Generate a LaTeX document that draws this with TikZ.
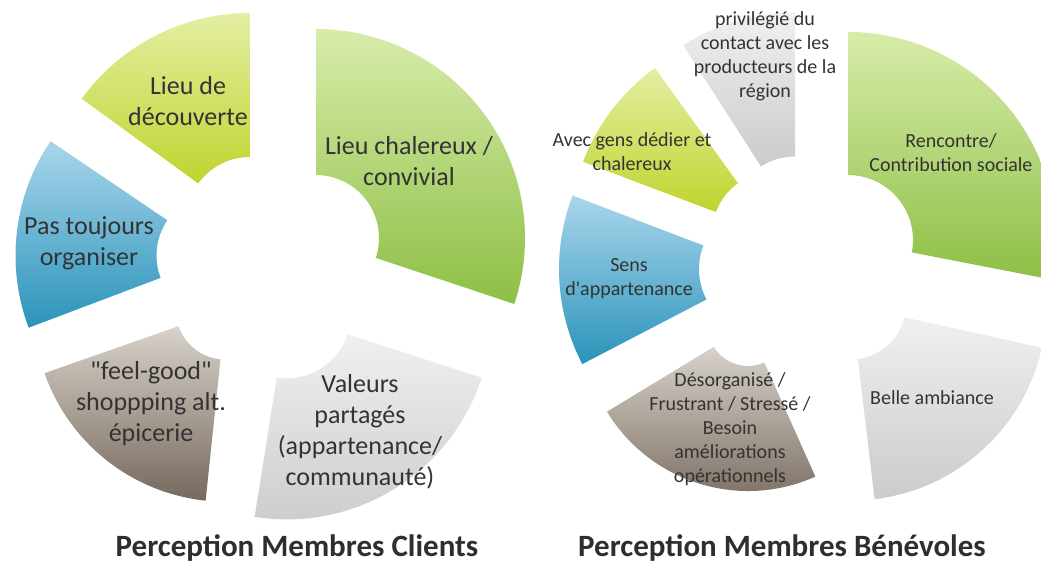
\documentclass[tikz,border=0pt]{standalone}
\usepackage{fontspec}
\setmainfont{Carlito}[Ligatures=TeXOff]
\usetikzlibrary{calc}

\definecolor{ylwTop}{HTML}{E4EEA2}
\definecolor{ylwBot}{HTML}{C0D42E}
\definecolor{grnTop}{HTML}{D8ECAA}
\definecolor{grnBot}{HTML}{8DBF45}
\definecolor{bluTop}{HTML}{A9D6EC}
\definecolor{bluBot}{HTML}{2A93B9}
\definecolor{brnTop}{HTML}{D8D2CA}
\definecolor{brnBot}{HTML}{76695D}
\definecolor{gryTop}{HTML}{F0F0F0}
\definecolor{gryBot}{HTML}{CBCBCB}
\definecolor{txt}{HTML}{333333}

% annular sector: style, apex name, start angle, end angle, inner radius, outer radius
\newcommand\ringseg[6]{%
  \path[#1] ([shift={(#3:#6)}]#2) arc[start angle=#3, end angle=#4, radius=#6]
    -- ([shift={(#4:#5)}]#2) arc[start angle=#4, end angle=#3, radius=#5] -- cycle;}

\tikzset{
  ylw/.style={top color=ylwTop, bottom color=ylwBot},
  grn/.style={top color=grnTop, bottom color=grnBot},
  blu/.style={top color=bluTop, bottom color=bluBot},
  brn/.style={top color=brnTop, bottom color=brnBot},
  gry/.style={top color=gryTop, bottom color=gryBot},
  biglbl/.style={align=center, text=txt, inner sep=0pt, font=\fontsize{26}{31}\selectfont},
  smalllbl/.style={align=center, text=txt, inner sep=0pt, font=\fontsize{20}{24}\selectfont},
  title/.style={text=txt!90!black, inner sep=0pt, font=\bfseries\fontsize{31}{36}\selectfont},
}

\begin{document}
\begin{tikzpicture}[x=1pt,y=-1pt]
\useasboundingbox (0,0) rectangle (1041,569);
\begin{scope}
\clip (0,0) rectangle (1041,569);

% left chart: apex of each exploded segment
\coordinate (la) at (250,221);
\coordinate (lb) at (316,238);
\coordinate (lc) at (219.5,255.6);
\coordinate (ld) at (225.7,309.7);
\coordinate (le) at (286.7,314.4);

\ringseg{ylw}{la}{-144}{-90}{64}{208}
\ringseg{grn}{lb}{-90}{18.4}{63}{209}
\ringseg{blu}{lc}{159.3}{214.1}{63}{204}
\ringseg{brn}{ld}{96}{160.7}{50}{192}
\ringseg{gry}{le}{18}{99}{64}{205}

% right chart
\coordinate (ra) at (795,219.5);
\coordinate (rb) at (848,240);
\coordinate (rc) at (774.8,234.3);
\coordinate (rd) at (765,269);
\coordinate (re) at (748,326);
\coordinate (rf) at (851.5,305.5);

\ringseg{gry}{ra}{-122.7}{-90}{63}{207}
\ringseg{grn}{rb}{-90}{11}{65}{208}
\ringseg{ylw}{rc}{-159.3}{-125.8}{63}{205}
\ringseg{blu}{rd}{152.5}{200.9}{66}{206}
\ringseg{brn}{re}{65.9}{148.7}{40}{165}
\ringseg{gry}{rf}{12.5}{83.2}{54}{195}
\end{scope}

% left labels
\node[biglbl] (lta) at (188,101) {Lieu de\\découverte};
\node[biglbl] (ltb) at (409,161) {Lieu chalereux /\\convivial};
\node[biglbl] (ltc) at (89,243) {Pas toujours\\organiser};
\node[biglbl] (ltd) at (151,404) {"feel-good"\\shoppping alt.\\épicerie};
\node[biglbl] (lte) at (360,432) {Valeurs\\partagés\\(appartenance/\\communauté)};

% right labels
\node[smalllbl] (rta) at (765,56) {privilégié du\\contact avec les\\producteurs de la\\région};
\node[smalllbl] (rtb) at (951,153) {Rencontre/\\Contribution sociale};
\node[smalllbl] (rtc) at (632,152) {Avec gens dédier et\\chalereux};
\node[smalllbl] (rtd) at (629,279) {Sens\\d'appartenance};
\node[smalllbl] (rte) at (730,429) {Désorganisé /\\Frustrant / Stressé /\\Besoin\\améliorations\\opérationnels};
\node[smalllbl] (rtf) at (932,398) {Belle ambiance};

% chart titles
\node[title] (tl) at (297,548) {Perception Membres Clients};
\node[title] (tr) at (782,548) {Perception Membres Bénévoles};
\end{tikzpicture}
\end{document}
